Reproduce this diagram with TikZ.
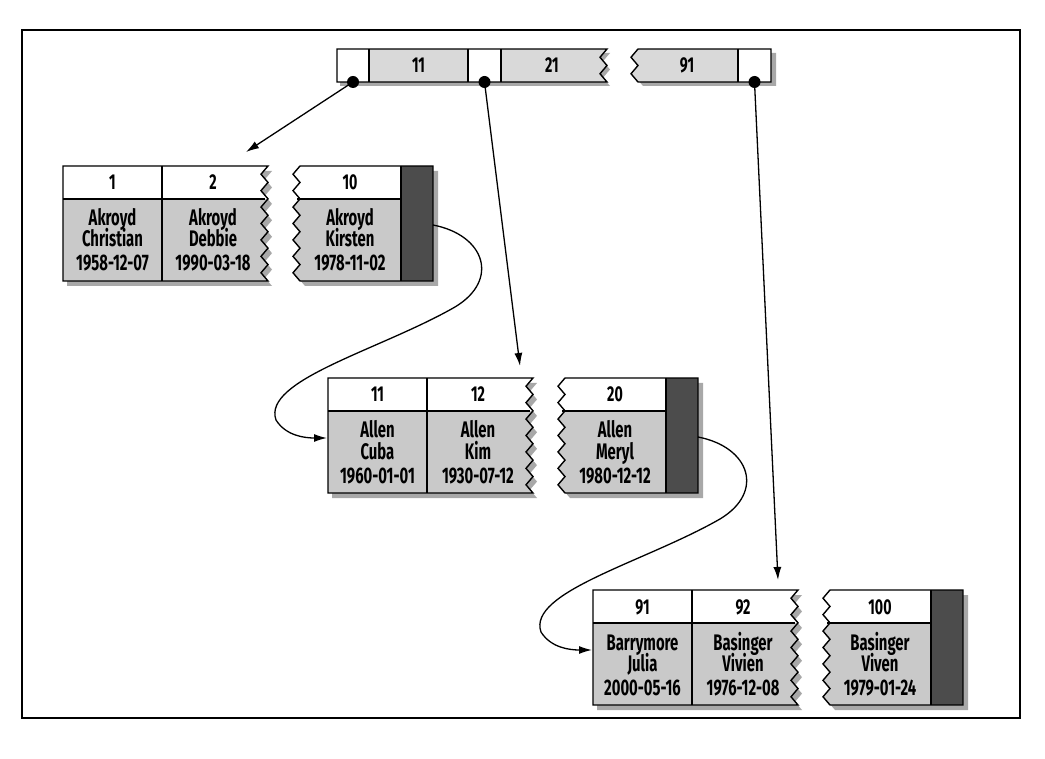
\documentclass[tikz,border=0pt]{standalone}
\usepackage{fontspec}
\setmainfont{Fira Sans}[FakeStretch=0.66]
\usetikzlibrary{arrows.meta}
\definecolor{cellgray}{gray}{0.79}
\definecolor{bargray}{gray}{0.85}
\definecolor{darkcol}{gray}{0.30}
\definecolor{shadowgray}{gray}{0.66}
\tikzset{
  outline/.style={draw=black, line width=1.4pt, line join=miter},
  sep/.style={draw=black, line width=1.3pt},
  ptr/.style={draw=black, line width=1.3pt, -{Latex[length=13pt,width=8pt]}},
  lbl/.style={inner sep=0pt, anchor=base, font=\fontsize{22.5}{26}\selectfont\bfseries},
  keylbl/.style={inner sep=0pt, anchor=base, font=\fontsize{21.5}{26}\selectfont\bfseries},
  dot/.style={circle, fill=black, inner sep=0pt, minimum size=12pt},
}
% leaf piece A (two cells, ragged right edge)
\newcommand\ShapeA[1]{#1 (0,0) -- (205,0) \foreach \k in {1,...,14}{ -- ({205-7*mod(\k,2)},{\k*115/14}) } -- (0,115) -- cycle;}
% leaf piece B (ragged left edge, dark pointer column)
\newcommand\ShapeB[1]{#1 (237,0) -- (370,0) -- (370,115) -- (237,115) \foreach \k in {13,...,1}{ -- ({237-7*mod(\k,2)},{\k*115/14}) } -- cycle;}
\newcommand\LeafShapes{%
  \ShapeA{\fill[shadowgray, shift={(4,5)}]}
  \ShapeB{\fill[shadowgray, shift={(5,5)}]}
  \ShapeA{\fill[cellgray]}
  \begin{scope}\ShapeA{\clip}\fill[white] (0,0) rectangle (210,33);\end{scope}
  \ShapeB{\fill[cellgray]}
  \begin{scope}\ShapeB{\clip}\fill[white] (225,0) rectangle (338,33);\fill[darkcol] (338,0) rectangle (370,115);\end{scope}
  \draw[sep] (0,33) -- (202,33);
  \draw[sep] (99,0) -- (99,115);
  \draw[sep] (234,33) -- (338,33);
  \draw[sep] (338,0) -- (338,115);
  \ShapeA{\draw[outline]}
  \ShapeB{\draw[outline]}
}
\newcommand\KeyText[3]{\node[keylbl] (#1) at (#2,24) {#3};}
\newcommand\CellText[5]{%
  \node[lbl] (#1a) at (#2,60) {#3};
  \node[lbl] (#1b) at (#2,81) {#4};
  \node[lbl] (#1c) at (#2,105) {#5};}
% index bar pieces
\newcommand\BarA[1]{#1 (337,0) -- (607,0) \foreach \k in {1,...,4}{ -- ({607-7*mod(\k,2)},{\k*33/4}) } -- (337,33) -- cycle;}
\newcommand\BarB[1]{#1 (638,0) -- (771,0) -- (771,33) -- (638,33) \foreach \k in {3,...,1}{ -- ({638-7*mod(\k,2)},{\k*33/4}) } -- cycle;}

\begin{document}
\begin{tikzpicture}[x=1pt, y=-1pt]
\useasboundingbox (0,0) rectangle (1045,759);
\fill[white] (0,0) rectangle (1045,759);
\draw[line width=1.4pt] (22,30) rectangle (1020,718);

% ---------- index (root) page ----------
\begin{scope}[shift={(0,49)}]
  \BarA{\fill[shadowgray, shift={(3,4)}]}
  \BarB{\fill[shadowgray, shift={(5,4)}]}
  \BarA{\fill[white]}
  \begin{scope}\BarA{\clip}\fill[bargray] (369,0) rectangle (468,33);\fill[bargray] (501,0) rectangle (610,33);\end{scope}
  \BarB{\fill[white]}
  \begin{scope}\BarB{\clip}\fill[bargray] (625,0) rectangle (738,33);\end{scope}
  \draw[sep] (369,0) -- (369,33);
  \draw[sep] (468,0) -- (468,33);
  \draw[sep] (501,0) -- (501,33);
  \draw[sep] (738,0) -- (738,33);
  \BarA{\draw[outline]}
  \BarB{\draw[outline]}
  \KeyText{r11}{418.5}{11}
  \KeyText{r21}{552}{21}
  \KeyText{r91}{687}{91}
  \node[dot] (d1) at (353,33) {};
  \node[dot] (d2) at (484.5,33) {};
  \node[dot] (d3) at (754.5,33) {};
\end{scope}

% ---------- leaf page 1 ----------
\begin{scope}[shift={(63,166)}]
  \LeafShapes
  \KeyText{k1}{49.5}{1}
  \KeyText{k2}{150}{2}
  \KeyText{k10}{287}{10}
  \CellText{a1}{49.5}{Akroyd}{Christian}{1958-12-07}
  \CellText{a2}{150}{Akroyd}{Debbie}{1990-03-18}
  \CellText{a10}{287}{Akroyd}{Kirsten}{1978-11-02}
  \coordinate (t1) at (183,-14);
  \coordinate (n1s) at (370,59);
\end{scope}

% ---------- leaf page 2 ----------
\begin{scope}[shift={(328,378)}]
  \LeafShapes
  \KeyText{k11}{49.5}{11}
  \KeyText{k12}{150}{12}
  \KeyText{k20}{287}{20}
  \CellText{b11}{49.5}{Allen}{Cuba}{1960-01-01}
  \CellText{b12}{150}{Allen}{Kim}{1930-07-12}
  \CellText{b20}{287}{Allen}{Meryl}{1980-12-12}
  \coordinate (t2) at (192,-12);
  \coordinate (n1e) at (-1,60);
  \coordinate (n2s) at (370,59);
\end{scope}

% ---------- leaf page 3 ----------
\begin{scope}[shift={(593,590)}]
  \LeafShapes
  \KeyText{k91}{49.5}{91}
  \KeyText{k92}{150}{92}
  \KeyText{k100}{287}{100}
  \CellText{c91}{49.5}{Barrymore}{Julia}{2000-05-16}
  \CellText{c92}{150}{Basinger}{Vivien}{1976-12-08}
  \CellText{c100}{287}{Basinger}{Viven}{1979-01-24}
  \coordinate (t3) at (185,-10);
  \coordinate (n2e) at (-1,60);
\end{scope}

% ---------- pointers ----------
\draw[ptr] (d1.center) -- (t1);
\draw[ptr] (d2.center) -- (t2);
\draw[ptr] (d3.center) -- (t3);

% ---------- leaf-to-leaf links ----------
\draw[ptr] (n1s) .. controls (485,235) and (500,280) .. (455,307)
  .. controls (380,350) and (262,380) .. (276,420)
  .. controls (286,436) and (305,438) .. (n1e);
\begin{scope}[shift={(265,212)}]
  \draw[ptr] (n2s) .. controls (485,235) and (500,280) .. (455,307)
    .. controls (380,350) and (262,380) .. (276,420)
    .. controls (286,436) and (305,438) .. (n2e);
\end{scope}
\end{tikzpicture}
\end{document}
